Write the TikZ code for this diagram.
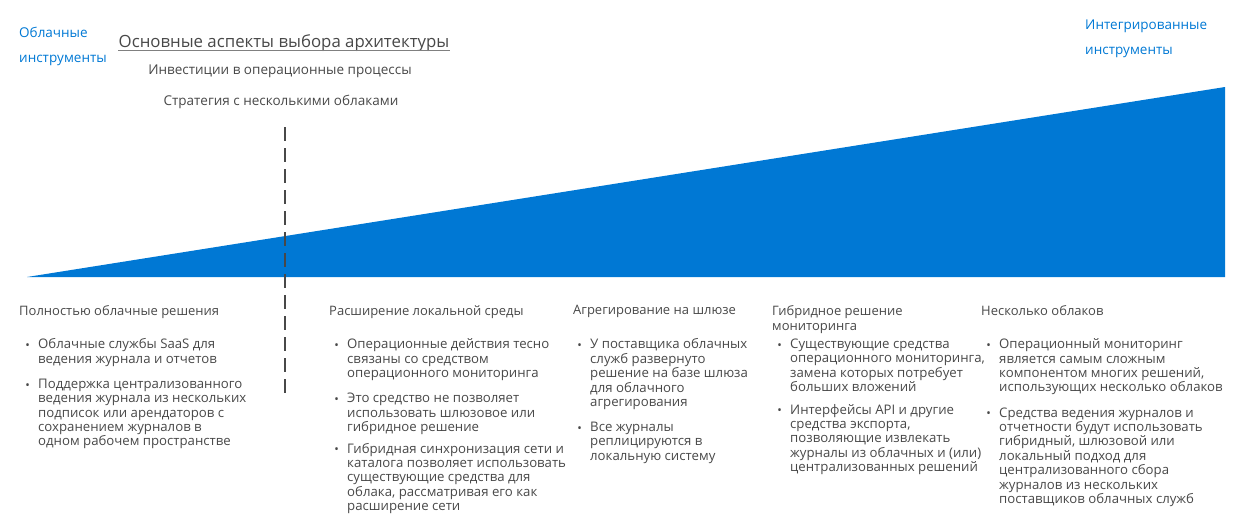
\documentclass[tikz,border=0pt]{standalone}
\usepackage{fontspec}
\setmainfont{Open Sans}
\usetikzlibrary{positioning}
\definecolor{msblue}{RGB}{0,120,212}
\definecolor{dgray}{RGB}{72,72,72}
\definecolor{lgray}{RGB}{128,128,128}

\begin{document}
\begin{tikzpicture}[x=1pt, y=-1pt,
  tool/.style={
    text=msblue, font=\fontsize{13.5}{25}\selectfont,
    align=left, inner sep=0pt, anchor=north west
  },
  sub/.style={
    text=dgray, font=\fontsize{13.5}{15}\selectfont,
    inner sep=0pt
  },
  head/.style={
    text=dgray, font=\fontsize{13}{15}\selectfont,
    align=left, inner sep=0pt, anchor=north west
  },
  item/.style={
    text=dgray, font=\fontsize{13.2}{14.4}\selectfont,
    align=left, inner sep=0pt,
    label={[text=dgray, font=\fontsize{12}{12}\selectfont, inner sep=0pt,
      anchor=north east, xshift=-8pt, yshift=-4.5pt]north west:•}
  },
  dash line/.style={draw=dgray, line width=1.4pt, dash pattern=on 14pt off 7pt}
]
  \useasboundingbox (0,0) rectangle (1234,514);

  % rising wedge
  \fill[msblue] (27,277) -- (1225,277) -- (1225,87) -- cycle;

  % top labels
  \node[tool] (cloud) at (19,27) {Облачные\\инструменты};
  \node[tool] (integ) at (1085,20) {Интегрированные\\инструменты};

  \node[sub, font=\fontsize{16.8}{20}\selectfont, anchor=center] (title) at (284,43)
    {Основные аспекты выбора архитектуры};
  \draw[lgray, line width=1.2pt] (title.south west) ++(0,-1) coordinate (ul1)
    (title.south east) ++(0,-1) coordinate (ul2);
  \draw[lgray, line width=1.2pt] (ul1) -- (ul2);
  \node[sub, anchor=center] (invest) at (280,71) {Инвестиции в операционные процессы};
  \node[sub, anchor=center] (multi) at (281,102) {Стратегия с несколькими облаками};

  % divider
  \coordinate (dtop) at (285,127);
  \coordinate (dbot) at (285,400);
  \draw[dash line] (dtop) -- (dbot);

  % column headers
  \node[head] (h1) at (19,305) {Полностью облачные решения};
  \node[head] (h2) at (329,305) {Расширение локальной среды};
  \node[head] (h3) at (573,305) {Агрегирование на шлюзе};
  \node[head] (h4) at (772,305) {Гибридное решение\\мониторинга};
  \node[head] (h5) at (981,305) {Несколько облаков};

  % column 1
  \node[item, anchor=north west] (i11) at (38,338.5) {Облачные службы SaaS для\\ведения журнала и отчетов};
  \node[item, below=12pt of i11.south west, anchor=north west] (i12)
    {Поддержка централизованного\\ведения журнала из нескольких\\подписок или арендаторов с\\сохранением журналов в\\одном рабочем пространстве};

  % column 2
  \node[item, anchor=north west] (i21) at (347,338.5) {Операционные действия тесно\\связаны со средством\\операционного мониторинга};
  \node[item, below=12pt of i21.south west, anchor=north west] (i22)
    {Это средство не позволяет\\использовать шлюзовое или\\гибридное решение};
  \node[item, below=8pt of i22.south west, anchor=north west] (i23)
    {Гибридная синхронизация сети и\\каталога позволяет использовать\\существующие средства для\\облака, рассматривая его как\\расширение сети};

  % column 3
  \node[item, anchor=north west] (i31) at (590,338.5) {У поставщика облачных\\служб развернуто\\решение на базе шлюза\\для облачного\\агрегирования};
  \node[item, below=12pt of i31.south west, anchor=north west] (i32)
    {Все журналы\\реплицируются в\\локальную систему};

  % column 4
  \node[item, anchor=north west] (i41) at (790,338.5) {Существующие средства\\операционного мониторинга,\\замена которых потребует\\больших вложений};
  \node[item, below=12pt of i41.south west, anchor=north west] (i42)
    {Интерфейсы API и другие\\средства экспорта,\\позволяющие извлекать\\журналы из облачных и (или)\\централизованных решений};

  % column 5
  \node[item, anchor=north west] (i51) at (999,338.5) {Операционный мониторинг\\является самым сложным\\компонентом многих решений,\\использующих несколько облаков};
  \node[item, below=12pt of i51.south west, anchor=north west] (i52)
    {Средства ведения журналов и\\отчетности будут использовать\\гибридный, шлюзовой или\\локальный подход для\\централизованного сбора\\журналов из нескольких\\поставщиков облачных служб};
\end{tikzpicture}
\end{document}
